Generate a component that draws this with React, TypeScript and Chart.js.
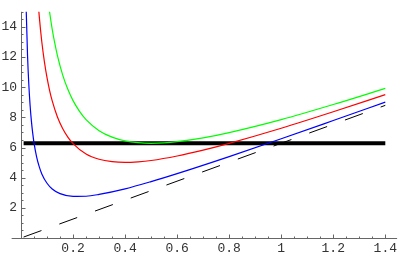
import React, { useEffect, useRef } from "react";
import { Chart, registerables } from "chart.js";

Chart.register(...registerables);

// Blue curve
const blueX = [0.018, 0.02, 0.025, 0.03, 0.035, 0.04, 0.045, 0.05, 0.06, 0.07, 0.08, 0.1, 0.12, 0.15, 0.2, 0.25, 0.3, 0.4, 0.5, 0.6, 0.8, 1.0, 1.2, 1.4];
const blueY = [16.78, 15.13, 12.16, 10.19, 8.79, 7.75, 6.95, 6.31, 5.38, 4.73, 4.25, 3.63, 3.25, 2.94, 2.76, 2.77, 2.89, 3.26, 3.74, 4.27, 5.40, 6.58, 7.79, 9.01];

// Red curve
const redX = [0.06, 0.065, 0.07, 0.075, 0.08, 0.09, 0.1, 0.11, 0.12, 0.14, 0.16, 0.18, 0.2, 0.25, 0.3, 0.35, 0.4, 0.45, 0.5, 0.6, 0.7, 0.8, 1.0, 1.2, 1.4];
const redY = [17.04, 15.79, 14.73, 13.8, 13.0, 11.68, 10.63, 9.78, 9.09, 8.02, 7.26, 6.69, 6.26, 5.57, 5.22, 5.06, 5.01, 5.05, 5.14, 5.44, 5.83, 6.28, 7.28, 8.37, 9.51];

// Green curve
const greenX = [0.1, 0.105, 0.11, 0.12, 0.13, 0.14, 0.16, 0.18, 0.2, 0.225, 0.25, 0.3, 0.35, 0.4, 0.45, 0.5, 0.55, 0.6, 0.7, 0.8, 1.0, 1.2, 1.4];
const greenY = [16.34, 15.62, 14.97, 13.84, 12.9, 12.1, 10.82, 9.86, 9.11, 8.4, 7.85, 7.12, 6.69, 6.44, 6.32, 6.28, 6.31, 6.39, 6.64, 6.99, 7.85, 8.85, 9.92];

// Dashed straight line
const dashX = [0.01, 1.4];
const dashY = [0.063, 8.796];

// Thick horizontal line
const levelX = [0.01, 1.4];
const levelY = [6.283, 6.283];

// Axes / ticks
const xRange = [0, 1.4454];
const xAxisStart = -0.036;
const yRange = [0, 15];
const xTickStep = 0.2;
const yTickStep = 2;
const xMinorStep = 0.05;
const yMinorStep = 0.5;

const pts = (xs: number[], ys: number[]) => xs.map((x, i) => ({ x, y: ys[i] }));

const axesPlugin = {
  id: "mmaAxes",
  beforeDatasetsDraw(chart: any) {
    const { ctx, scales } = chart;
    const xs = scales.x;
    const ys = scales.y;
    const y0 = Math.round(ys.getPixelForValue(0)) + 0.5;
    const x0 = Math.round(xs.getPixelForValue(0)) + 0.5;
    ctx.save();
    ctx.strokeStyle = "#666";
    ctx.lineWidth = 1;
    ctx.beginPath();
    ctx.moveTo(xs.getPixelForValue(xAxisStart), y0);
    ctx.lineTo(xs.right, y0);
    ctx.moveTo(x0, ys.top);
    ctx.lineTo(x0, y0);
    // x ticks
    const nx = Math.floor(xRange[1] / xMinorStep + 1e-9);
    for (let i = 1; i <= nx; i++) {
      const v = i * xMinorStep;
      const major = Math.abs(v / xTickStep - Math.round(v / xTickStep)) < 1e-6;
      const px = Math.round(xs.getPixelForValue(v)) + 0.5;
      ctx.moveTo(px, y0);
      ctx.lineTo(px, y0 - (major ? 4 : 2));
    }
    // y ticks
    const ny = Math.floor(yRange[1] / yMinorStep + 1e-9);
    for (let i = 1; i <= ny; i++) {
      const v = i * yMinorStep;
      const major = Math.abs(v / yTickStep - Math.round(v / yTickStep)) < 1e-6;
      const py = Math.round(ys.getPixelForValue(v)) + 0.5;
      ctx.moveTo(x0, py);
      ctx.lineTo(x0 + (major ? 4 : 2), py);
    }
    ctx.stroke();
    ctx.restore();
  },
};

export default function App() {
  const ref = useRef<HTMLCanvasElement>(null);
  useEffect(() => {
    if (!ref.current) return;
    const font = { family: "'Liberation Mono', 'Courier New', monospace", size: 13 };
    const chart = new Chart(ref.current, {
      type: "line",
      data: {
        datasets: [
          { data: pts(blueX, blueY), borderColor: "#0000ff", borderWidth: 1.2, pointRadius: 0, cubicInterpolationMode: "monotone", order: 0 },
          { data: pts(redX, redY), borderColor: "#ff0000", borderWidth: 1.2, pointRadius: 0, cubicInterpolationMode: "monotone", order: 0 },
          { data: pts(greenX, greenY), borderColor: "#00ff00", borderWidth: 1.2, pointRadius: 0, cubicInterpolationMode: "monotone", order: 0 },
          { data: pts(dashX, dashY), borderColor: "#000000", borderWidth: 1, borderDash: [19, 19], pointRadius: 0, order: 1 },
          { data: pts(levelX, levelY), borderColor: "#000000", borderWidth: 4, borderCapStyle: "butt", pointRadius: 0, order: 2 },
        ] as any,
      },
      options: {
        animation: false,
        responsive: false,
        devicePixelRatio: 1,
        layout: { padding: 0 },
        plugins: { legend: { display: false }, tooltip: { enabled: false } },
        scales: {
          x: {
            type: "linear",
            min: xRange[0],
            max: xRange[1],
            grid: { display: false, drawTicks: false },
            border: { display: false },
            afterFit: (s: any) => { s.height = 18; },
            ticks: {
              stepSize: xTickStep,
              includeBounds: false,
              autoSkip: false,
              maxRotation: 0,
              padding: 3,
              color: "#333",
              font,
              callback: (v: any) => (Math.abs(v) < 1e-9 ? "" : String(Math.round(Number(v) * 10) / 10)),
            },
          },
          y: {
            type: "linear",
            min: yRange[0],
            max: yRange[1],
            grid: { display: false, drawTicks: false },
            border: { display: false },
            afterFit: (s: any) => { s.width = 21; },
            ticks: {
              stepSize: yTickStep,
              includeBounds: false,
              autoSkip: false,
              padding: 4,
              color: "#333",
              font,
              callback: (v: any) => (Math.abs(v) < 1e-9 ? "" : String(v)),
            },
          },
        },
      } as any,
      plugins: [axesPlugin],
    });
    return () => chart.destroy();
  }, []);
  return (
    <div style={{ position: "absolute", left: 0, top: 0, width: 400, height: 256, background: "#fff" }}>
      <canvas ref={ref} width={400} height={256} />
    </div>
  );
}
